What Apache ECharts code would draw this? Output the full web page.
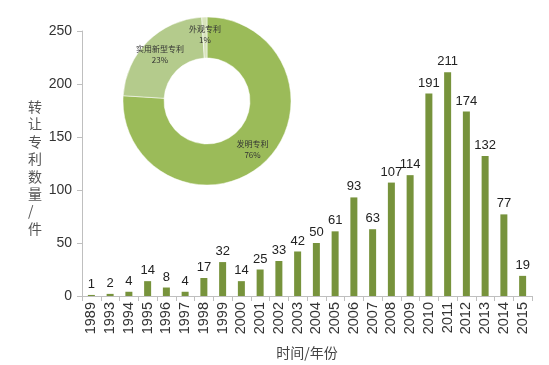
<!DOCTYPE html>
<html><head><meta charset="utf-8">
<script src="https://cdn.jsdelivr.net/npm/echarts@6/dist/echarts.min.js"></script>
<style>html,body{margin:0;padding:0;background:#fff}#c{width:549px;height:365px}</style>
</head><body><div id="c"></div>
<script>
const years = ['1989','1993','1994','1995','1996','1997','1998','1999','2000','2001','2002','2003','2004','2005','2006','2007','2008','2009','2010','2011','2012','2013','2014','2015'];
const counts = [1,2,4,14,8,4,17,32,14,25,33,42,50,61,93,63,107,114,191,211,174,132,77,19];
const yTicks = {min:0, max:250, interval:50};
const pieNames = ['发明专利','实用新型专利','外观专利'];
const pieValues = [76,23,1];
const pieColors = ['#9bbb59','#b4cb8c','#d8e4bc'];
const fontFam = '"Liberation Sans", Arial, sans-serif';
const cjk = '"Noto Sans CJK SC", sans-serif';
const chart = echarts.init(document.getElementById('c'));
chart.setOption({
  animation:false,
  grid:{left:82, right:17, top:31, bottom:65},
  xAxis:{type:'category', data:years,
    axisLine:{lineStyle:{color:'#bfbfbf'}},
    axisTick:{show:true, alignWithLabel:false, length:5, lineStyle:{color:'#bfbfbf'}},
    axisLabel:{rotate:90, interval:0, color:'#333', fontSize:14.5, fontFamily:fontFam, margin:6},
    name:'时间/年份', nameLocation:'middle', nameGap:50,
    nameTextStyle:{color:'#444', fontSize:14, fontFamily:cjk}},
  yAxis:{type:'value', min:yTicks.min, max:yTicks.max, interval:yTicks.interval,
    axisLine:{show:true, lineStyle:{color:'#bfbfbf'}},
    axisTick:{show:true, length:5, lineStyle:{color:'#bfbfbf'}},
    splitLine:{show:false},
    axisLabel:{color:'#333', fontSize:14, fontFamily:fontFam, margin:10}},
  graphic:[{type:'text', left:28, top:98,
    style:{text:'转\n让\n专\n利\n数\n量\n/\n件', fill:'#555', font:'14px "Noto Sans CJK SC"', lineHeight:17.4, align:'center'}}],
  series:[
    {type:'bar', data:counts, barWidth:7, itemStyle:{color:'#77933c'},
     label:{show:true, position:'top', color:'#222', fontSize:13, fontFamily:fontFam, distance:4}},
    {type:'pie', center:[207,101], radius:[43,84], startAngle:90, clockwise:true,
     z:10,
     data:pieNames.map((n,i)=>({name:n, value:pieValues[i], itemStyle:{color:pieColors[i]}})),
     itemStyle:{borderColor:'#fff', borderWidth:0.5},
     label:{show:true, position:'inside', formatter:'{b}\n{d}%', color:'#333', fontSize:8, fontFamily:cjk, lineHeight:11},
     labelLine:{show:false}}
  ]
});
</script></body></html>
